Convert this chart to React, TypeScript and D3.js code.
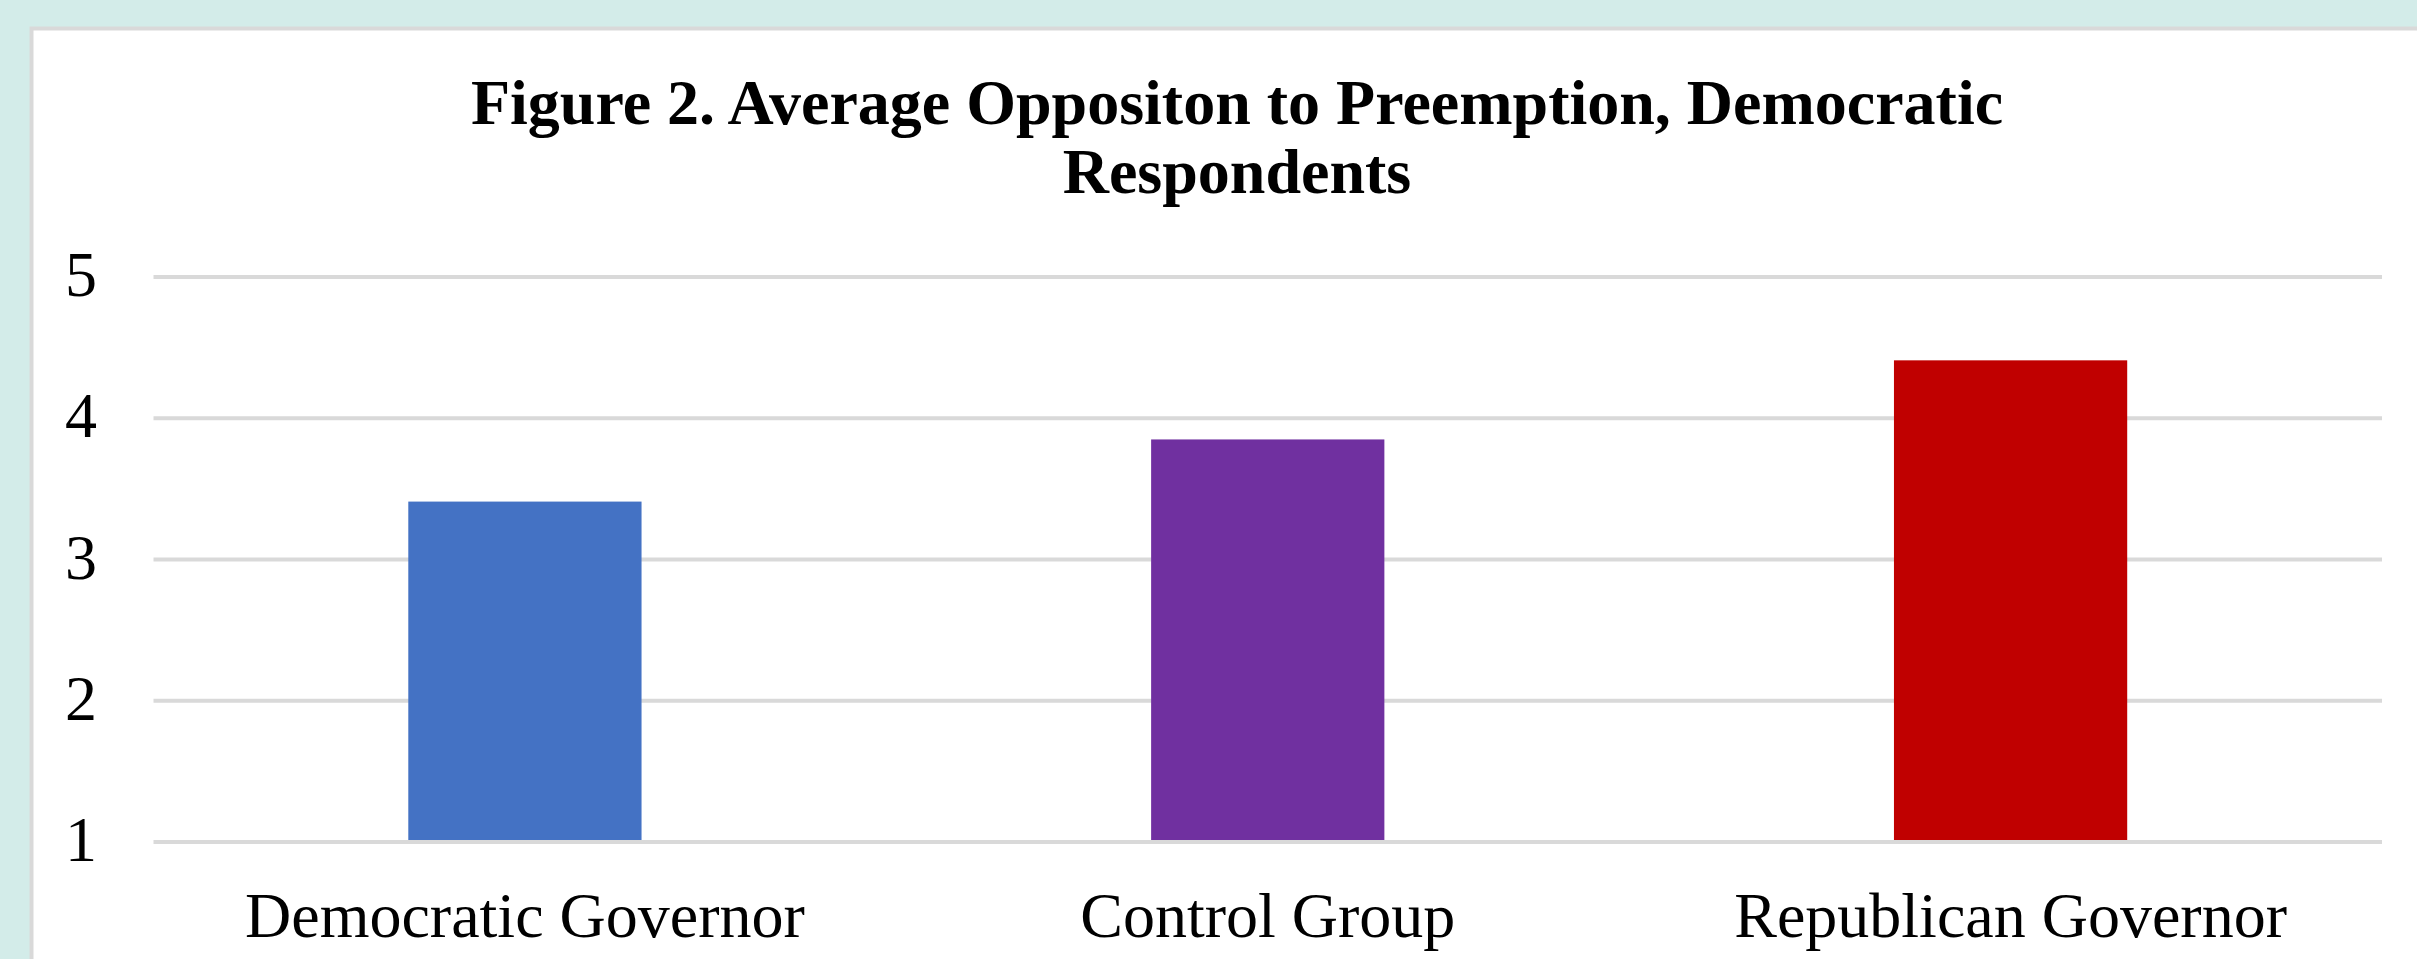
import React from "react";
import * as d3 from "d3";

const categories = ["Democratic Governor", "Control Group", "Republican Governor"];
const values = [3.41, 3.85, 4.41];
const barColors = ["#4472c4", "#7030a0", "#c00000"];
const yTicks = [1, 2, 3, 4, 5];
const titleLines = ["Figure 2. Average Oppositon to Preemption, Democratic", "Respondents"];

const W = 2417;
const H = 959;

export default function App() {
  const left = 153.5;
  const right = 2382;
  const top = 277;
  const bottom = 842;

  const x = d3
    .scaleBand<string>()
    .domain(categories)
    .range([left, right])
    .paddingInner(0.686)
    .paddingOuter(0.343);
  const y = d3.scaleLinear().domain([1, 5]).range([bottom, top]);

  const font = "'Liberation Serif', 'Times New Roman', serif";

  return (
    <svg
      width={W}
      height={H}
      style={{ position: "absolute", left: 0, top: 0, display: "block" }}
    >
      <rect x={0} y={0} width={W} height={H} fill="#d3ece9" />
      <rect x={31.5} y={28.5} width={W + 20} height={H + 20} fill="#ffffff" stroke="#d9d9d9" strokeWidth={4} />

      {titleLines.map((t, i) => (
        <text
          key={i}
          x={1237}
          y={124 + i * 69}
          textAnchor="middle"
          fontFamily={font}
          fontWeight="bold"
          fontSize={64}
          fill="#000"
        >
          {t}
        </text>
      ))}

      {yTicks.map((t) => (
        <g key={t}>
          <line x1={left} x2={right} y1={y(t)} y2={y(t)} stroke="#d9d9d9" strokeWidth={4} />
          <text
            x={97}
            y={y(t) + 19}
            textAnchor="end"
            fontFamily={font}
            fontSize={64}
            fill="#000"
          >
            {t}
          </text>
        </g>
      ))}

      {categories.map((c, i) => (
        <rect
          key={c}
          x={x(c)!}
          y={y(values[i])}
          width={x.bandwidth()}
          height={y(1) - y(values[i]) - 2}
          fill={barColors[i]}
        />
      ))}

      {categories.map((c) => (
        <text
          key={c}
          x={x(c)! + x.bandwidth() / 2}
          y={937}
          textAnchor="middle"
          fontFamily={font}
          fontSize={64}
          fill="#000"
        >
          {c}
        </text>
      ))}
    </svg>
  );
}
